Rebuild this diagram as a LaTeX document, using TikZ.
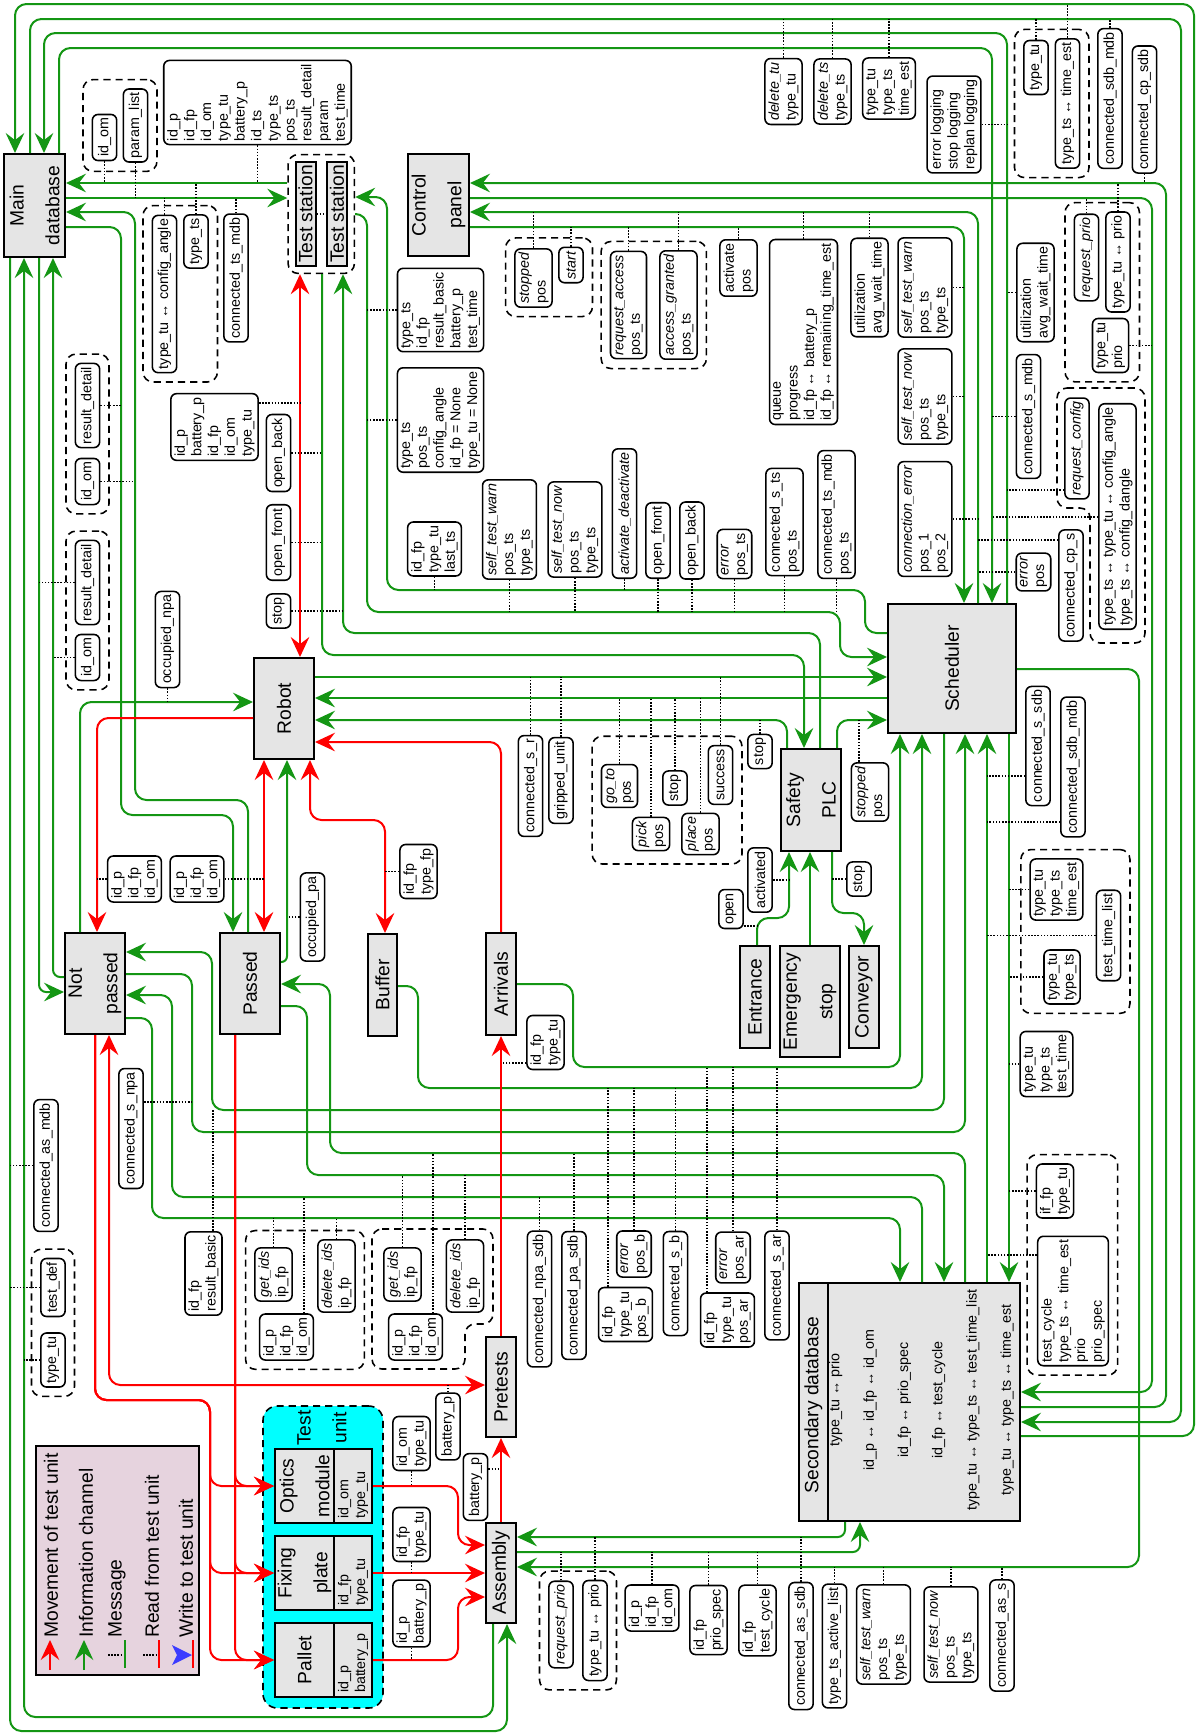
\documentclass[tikz,border=0pt]{standalone}
\usepackage{fontspec}
\setmainfont{Liberation Sans}
\usetikzlibrary{arrows.meta,fit}
\definecolor{chgreen}{RGB}{20,150,20}
\definecolor{mvred}{RGB}{255,0,0}
\definecolor{unitgray}{RGB}{229,229,229}
\definecolor{legendpink}{RGB}{230,211,222}
\definecolor{wrblue}{RGB}{60,60,255}
\definecolor{tucyan}{RGB}{0,255,255}

\begin{document}
\catcode`\_=12
\begin{tikzpicture}[
    x=0.7pt, y=-0.7pt,
    >={Stealth[length=14pt,width=13pt,inset=5pt]},
    unitbox/.style={rectangle, draw, line width=1.4pt, fill=unitgray, rotate=90, align=center, inner sep=0pt, font=\fontsize{13.5}{25}\selectfont},
    idbox/.style={unitbox, align=left, text width=46pt, minimum width=51.8pt, minimum height=26.6pt, font=\fontsize{10}{11.7}\selectfont},
    msgbox/.style={rectangle, draw, line width=1.1pt, rounded corners=4pt, fill=white, rotate=90, align=left, inner sep=2.5pt, minimum height=17pt, font=\fontsize{10}{11.7}\selectfont},
    grp/.style={draw, line width=1.1pt, dash pattern=on 5pt off 3.5pt, rounded corners=7pt, inner sep=6pt},
    legtext/.style={rotate=90, anchor=west, inner sep=0pt, font=\fontsize{13.5}{16}\selectfont},
    infoline/.style={draw=chgreen, line width=1.4pt, rounded corners=8pt},
    moveline/.style={draw=mvred, line width=1.4pt, rounded corners=8pt},
    msglink/.style={line width=1.1pt, dash pattern=on 1.1pt off 1.1pt}
]
\useasboundingbox (0,0) rectangle (1197,1735);

% Units
\node[unitbox, minimum width=72.1pt, minimum height=42.7pt] (mdb) at (34.5,205.5) {Main\\database};
\node[unitbox, minimum width=72.8pt, minimum height=14pt] (ts1) at (305.5,214) {Test station};
\node[unitbox, minimum width=72.8pt, minimum height=14pt] (ts2) at (337,214) {Test station};
\node[grp, inner sep=4.5pt, fit=(ts1)(ts2)] (tsg) {};
\node[unitbox, minimum width=71.4pt, minimum height=42.7pt] (cp) at (438.5,205) {Control\\panel};
\node[unitbox, minimum width=70.7pt, minimum height=42pt] (robot) at (284,708.5) {Robot};
\node[unitbox, minimum width=90.3pt, minimum height=89.6pt] (sched) at (952,668.5) {Scheduler};
\node[unitbox, minimum width=71.4pt, minimum height=42pt] (plc) at (811,800) {Safety\\PLC};
\node[unitbox, minimum width=70.7pt, minimum height=42pt] (notpassed) at (95,983.5) {Not\\passed};
\node[unitbox, minimum width=70.7pt, minimum height=42pt] (passed) at (250,983.5) {Passed};
\node[unitbox, minimum width=71.4pt, minimum height=20.3pt] (buffer) at (382.5,985) {Buffer};
\node[unitbox, minimum width=71.4pt, minimum height=21pt] (arrivals) at (501,984) {Arrivals};
\node[unitbox, minimum width=71.4pt, minimum height=21pt] (entrance) at (755,997) {Entrance};
\node[unitbox, minimum width=77.7pt, minimum height=42pt] (estop) at (810,1001.5) {Emergency\\stop};
\node[unitbox, minimum width=71.4pt, minimum height=21pt] (conveyor) at (864,997) {Conveyor};
\node[unitbox, minimum width=70pt, minimum height=21pt] (pretests) at (501,1387) {Pretests};
\node[unitbox, minimum width=70pt, minimum height=21pt] (assembly) at (501,1573) {Assembly};

% Secondary database
\node[rectangle, draw, line width=1.4pt, fill=unitgray, minimum width=154.7pt, minimum height=166.6pt, inner sep=0pt] (sdb) at (909.5,1402) {};
\draw[line width=1.4pt] (sdb.north -| 828,0) -- (sdb.south -| 828,0);
\node[rotate=90, inner sep=0pt, font=\fontsize{13.5}{25}\selectfont] (sdbtitle) at (813.5,1405) {Secondary database};
\node[rotate=90, align=center, inner sep=0pt, font=\fontsize{10}{24}\selectfont] (sdbmaps) at (921.5,1400) {type_tu ↔ prio\\id_p ↔ id_fp ↔ id_om\\id_fp ↔ prio_spec\\id_fp ↔ test_cycle\\type_tu ↔ type_ts ↔ test_time_list\\type_tu ↔ type_ts ↔ time_est};

% Test unit
\node[rectangle, draw, line width=1.1pt, dash pattern=on 5pt off 3.5pt, rounded corners=10pt, fill=tucyan, minimum width=84pt, minimum height=211.4pt] (tug) at (323,1557) {};
\node[rotate=90, align=center, inner sep=0pt, font=\fontsize{13.5}{25}\selectfont] (tutitle) at (322,1428) {Test\\unit};
\node[unitbox, minimum width=51.8pt, minimum height=41.3pt] (optics) at (304.5,1486) {Optics\\module};
\node[idbox] (opticsid) at (353,1486) {id_om\\type_tu};
\node[unitbox, minimum width=51.8pt, minimum height=41.3pt] (fixing) at (304.5,1573) {Fixing\\plate};
\node[idbox] (fixingid) at (353,1573) {id_fp\\type_tu};
\node[unitbox, minimum width=51.8pt, minimum height=41.3pt] (pallet) at (304.5,1660) {Pallet};
\node[idbox] (palletid) at (353,1660) {id_p\\battery_p};

% Legend
\node[rectangle, draw, line width=1.4pt, fill=legendpink, minimum width=114.1pt, minimum height=160.3pt] (legend) at (117.5,1560.5) {};
\node[legtext] (lgmove) at (51,1638) {Movement of test unit};
\node[legtext] (lginfo) at (86,1638) {Information channel};
\node[legtext] (lgmsg) at (117,1638) {Message};
\node[legtext] (lgread) at (152,1638) {Read from test unit};
\node[legtext] (lgwrite) at (186,1638) {Write to test unit};
\draw[moveline,->] (lgmove.west) ++(-1,32) -- ++(0,-30);
\draw[infoline,->] (lginfo.west) ++(-2,32) -- ++(0,-30);
\draw[msglink] (lgmsg.west) ++(-9,17) -- ++(15,0);
\draw[infoline] (lgmsg.west) ++(8,2) -- ++(0,28);
\draw[msglink] (lgread.west) ++(-9,17) -- ++(14,0);
\draw[moveline] (lgread.west) ++(7,2) -- ++(0,28);
\fill[wrblue] (lgwrite.west) ++(6,17) -- ++(-20,-10) -- ++(5,10) -- ++(-5,10) -- cycle;
\draw[moveline] (lgwrite.west) ++(7,2) -- ++(0,28);

% Messages near the test station
\node[msgbox] (omA) at (104.5,137.5) {id_om};
\node[msgbox] (paramlist) at (135.5,125.5) {param_list};
\node[grp, fit=(omA)(paramlist)] (gparam) {};
\node[msgbox] (tsrec) at (257.5,102.5) {id_p\\id_fp\\id_om\\type_tu\\battery_p\\id_ts\\type_ts\\pos_ts\\result_detail\\param\\test_time};
\node[msgbox] (tsangle) at (164.5,294) {type_tu ↔ config_angle};
\node[msgbox] (tstype) at (196,241.5) {type_ts};
\node[grp, fit=(tsangle)(tstype)] (gangle) {};
\node[msgbox] (tsmdb) at (236,278) {connected_ts_mdb};
\node[msgbox] (resA) at (87.5,405.5) {result_detail};
\node[msgbox] (omB) at (87.5,481.5) {id_om};
\node[grp, fit=(resA)(omB)] (gresA) {};
\node[msgbox] (resB) at (87.5,582.5) {result_detail};
\node[msgbox] (omC) at (87.5,657.5) {id_om};
\node[grp, fit=(resB)(omC)] (gresB) {};
\node[msgbox] (occnpa) at (167.5,639.5) {occupied_npa};
\node[msgbox] (robrec) at (214.5,427) {id_p\\battery_p\\id_fp\\id_om\\type_tu};
\node[msgbox] (openbackA) at (278.5,453) {open_back};
\node[msgbox] (openfrontA) at (278.5,542.5) {open_front};
\node[msgbox] (stopA) at (278.5,611) {stop};
\node[msgbox] (tsbasic) at (440.5,310) {type_ts\\id_fp\\result_basic\\battery_p\\test_time};
\node[msgbox] (tsconf) at (440.5,420) {type_ts\\pos_ts\\config_angle\\id_fp = None\\type_tu = None};

% Messages near the control panel
\node[msgbox] (stoppedA) at (533.5,278) {\textit{stopped}\\pos};
\node[msgbox] (start) at (571,265) {\textit{start}};
\node[grp, fit=(stoppedA)(start)] (gstart) {};
\node[msgbox] (reqacc) at (628.5,305) {\textit{request_access}\\pos_ts};
\node[msgbox] (accgr) at (678.5,305) {\textit{access_granted}\\pos_ts};
\node[grp, fit=(reqacc)(accgr)] (gaccess) {};
\node[msgbox] (activate) at (738.5,268) {activate\\pos};
\node[msgbox] (queue) at (803.5,332) {queue\\progress\\id_fp ↔ battery_p\\id_fp ↔ remaining_time_est};
\node[msgbox] (utilA) at (869.5,287.5) {utilization\\avg_wait_time};
\node[msgbox] (warnA) at (925,287.5) {\textit{self_test_warn}\\pos_ts\\type_ts};
\node[msgbox] (nowA) at (925,396.5) {\textit{self_test_now}\\pos_ts\\type_ts};

% Messages at the top right
\node[msgbox] (deltu) at (783.5,91.5) {\textit{delete_tu}\\type_tu};
\node[msgbox] (delts) at (832.5,91.5) {\textit{delete_ts}\\type_ts};
\node[msgbox] (estA) at (889,88.5) {type_tu\\type_ts\\time_est};
\node[msgbox] (logging) at (954,124.5) {error logging\\stop logging\\replan logging};
\node[msgbox] (tutypeA) at (1036,67.5) {type_tu};
\node[msgbox] (tsest) at (1067.5,103.5) {type_ts ↔ time_est};
\node[grp, fit=(tutypeA)(tsest)] (gest) {};
\node[msgbox] (sdbmdbA) at (1110,98.5) {connected_sdb_mdb};
\node[msgbox] (cpsdb) at (1144.5,109.5) {connected_cp_sdb};
\node[msgbox] (reqprioA) at (1086.5,257.5) {\textit{request_prio}};
\node[msgbox] (tuprioA) at (1118,262) {type_tu ↔ prio};
\node[msgbox] (tuprio) at (1110.5,345.5) {type_tu\\prio};
\node[grp, fit=(reqprioA)(tuprioA)(tuprio)] (gprioA) {};
\node[msgbox] (utilB) at (1035.5,292.5) {utilization\\avg_wait_time};
\node[msgbox] (smdb) at (1028.5,416.5) {connected_s_mdb};
\node[msgbox] (reqconf) at (1077,448.5) {\textit{request_config}};
\node[msgbox] (confmap) at (1117.5,516.5) {type_ts ↔ type_tu ↔ config_angle\\type_ts ↔ config_dangle};
\draw[grp] (1057,388) -- (1145,388) -- (1145,643) -- (1090,643) -- (1090,508) -- (1057,508) -- cycle;
\node[msgbox] (cps) at (1071,585.5) {connected_cp_s};
\node[msgbox] (errA) at (1033.5,572) {\textit{error}\\pos};
\node[msgbox] (connerr) at (925,519) {\textit{connection_error}\\pos_1\\pos_2};
\node[msgbox] (tsmdbpos) at (836.5,514.5) {connected_ts_mdb\\pos_ts};
\node[msgbox] (sts) at (784.5,522) {connected_s_ts\\pos_ts};

% Messages between robot and scheduler
\node[msgbox] (lastts) at (434.5,549) {id_fp\\type_tu\\last_ts};
\node[msgbox] (warnB) at (509.5,529.5) {\textit{self_test_warn}\\pos_ts\\type_ts};
\node[msgbox] (nowB) at (575,529.5) {\textit{self_test_now}\\pos_ts\\type_ts};
\node[msgbox] (actdeact) at (624.5,513.5) {\textit{activate_deactivate}};
\node[msgbox] (openfrontB) at (658,540.5) {open_front};
\node[msgbox] (openbackB) at (692,540.5) {open_back};
\node[msgbox] (errB) at (734.5,554) {\textit{error}\\pos_ts};
\node[msgbox] (sr) at (530.5,786) {connected_s_r};
\node[msgbox] (gripped) at (561,780.5) {gripped_unit};
\node[msgbox] (goto) at (619.5,786) {\textit{go_to}\\pos};
\node[msgbox] (stopB) at (675,788) {stop};
\node[msgbox] (success) at (720.5,775) {success};
\node[msgbox] (pick) at (651,834) {\textit{pick}\\pos};
\node[msgbox] (place) at (700.5,834) {\textit{place}\\pos};
\node[grp, fit=(goto)(stopB)(success)(pick)(place)] (grobot) {};
\node[msgbox] (stopC) at (760,751.5) {stop};
\node[msgbox] (activated) at (760,880) {activated};
\node[msgbox] (open) at (731,909) {open};
\node[msgbox] (stoppedB) at (870,792) {\textit{stopped}\\pos};
\node[msgbox] (stopD) at (859,879) {stop};

% Messages right of the scheduler
\node[msgbox] (ssdb) at (1038,746) {connected_s_sdb};
\node[msgbox] (sdbmdbB) at (1073,767) {connected_sdb_mdb};
\node[msgbox] (estB) at (1056.5,889.5) {type_tu\\type_ts\\time_est};
\node[msgbox] (ttlist) at (1108.5,935.5) {test_time_list};
\node[msgbox] (tutsA) at (1062,977) {type_tu\\type_ts};
\node[grp, fit=(estB)(ttlist)(tutsA)] (gttl) {};
\node[msgbox] (testtime) at (1046.5,1064) {type_tu\\type_ts\\test_time};
\node[msgbox] (iffp) at (1055,1191) {if_fp\\type_tu};
\node[msgbox] (cyclebox) at (1073,1301) {test_cycle\\type_ts ↔ time_est\\prio\\prio_spec};
\node[grp, fit=(iffp)(cyclebox)] (gcycle) {};

% Messages in the lower half
\node[msgbox] (ompA) at (134.5,879) {id_p\\id_fp\\id_om};
\node[msgbox] (ompB) at (197,879) {id_p\\id_fp\\id_om};
\node[msgbox] (occpa) at (312.5,917) {occupied_pa};
\node[msgbox] (typefp) at (418.5,871.5) {id_fp\\type_fp};
\node[msgbox] (fptuA) at (545.5,1042.5) {id_fp\\type_tu};
\node[msgbox] (snpa) at (131,1128.5) {connected_s_npa};
\node[msgbox] (asmdb) at (46,1165.5) {connected_as_mdb};
\node[msgbox] (testdef) at (53,1287.5) {test_def};
\node[msgbox] (tutypeB) at (53,1360) {type_tu};
\node[grp, fit=(testdef)(tutypeB)] (gdef) {};
\node[msgbox] (resbasic) at (203.5,1273.5) {id_fp\\result_basic};
\node[msgbox] (getA) at (273.5,1274.5) {\textit{get_ids}\\ip_fp};
\node[msgbox] (delA) at (336.5,1276) {\textit{delete_ids}\\ip_fp};
\node[msgbox] (ompC) at (286.5,1337) {id_p\\id_fp\\id_om};
\node[grp, fit=(getA)(delA)(ompC)] (gidsA) {};
\node[msgbox] (getB) at (402.5,1274.5) {\textit{get_ids}\\ip_fp};
\node[msgbox] (delB) at (465,1276) {\textit{delete_ids}\\ip_fp};
\node[msgbox] (ompD) at (415.5,1337) {id_p\\id_fp\\id_om};
\draw[grp] (372,1229) -- (493,1229) -- (493,1324) -- (465,1324) -- (465,1369) -- (372,1369) -- cycle;
\node[msgbox] (npasdb) at (539.5,1299) {connected_npa_sdb};
\node[msgbox] (pasdb) at (574,1295.5) {connected_pa_sdb};
\node[msgbox] (errC) at (634,1254) {\textit{error}\\pos_b};
\node[msgbox] (posb) at (625.5,1314.5) {id_fp\\type_tu\\pos_b};
\node[msgbox] (sb) at (675.5,1283.5) {connected_s_b};
\node[msgbox] (errD) at (733,1257.5) {\textit{error}\\pos_ar};
\node[msgbox] (posar) at (727.5,1320) {id_fp\\type_tu\\pos_ar};
\node[msgbox] (sar) at (777,1285.5) {connected_s_ar};
\node[msgbox] (omtu) at (411.5,1443.5) {id_om\\type_tu};
\node[msgbox] (fptuB) at (411.5,1534.5) {id_fp\\type_tu};
\node[msgbox] (pbat) at (411.5,1613.5) {id_p\\battery_p};
\node[msgbox] (batA) at (448,1426.5) {battery_p};
\node[msgbox] (batB) at (475.5,1487) {battery_p};
\node[msgbox] (reqprioB) at (561,1624.5) {\textit{request_prio}};
\node[msgbox] (tuprioB) at (595,1630.5) {type_tu ↔ prio};
\node[grp, fit=(reqprioB)(tuprioB)] (gprioB) {};
\node[msgbox] (ompE) at (652,1608) {id_p\\id_fp\\id_om};
\node[msgbox] (priospec) at (708.5,1620) {id_fp\\prio_spec};
\node[msgbox] (tcycle) at (757.5,1620.5) {id_fp\\test_cycle};
\node[msgbox] (assdb) at (801,1646) {connected_as_sdb};
\node[msgbox] (activelist) at (834.5,1646) {type_ts_active_list};
\node[msgbox] (warnC) at (883.5,1634.5) {\textit{self_test_warn}\\pos_ts\\type_ts};
\node[msgbox] (nowC) at (951,1634.5) {\textit{self_test_now}\\pos_ts\\type_ts};
\node[msgbox] (assconn) at (1002,1635.5) {connected_as_s};

% Information channels
\draw[infoline,->] (sdb.east |- 0,1436) -| (1194,4) -| (mdb.east -| 15,0);
\draw[infoline,->] (mdb.east -| 30,0) |- (1181,19) |- (sdb.east |- 0,1422);
\draw[infoline,->] (sched.east -| 1007,0) |- (44,33) -- (mdb.east -| 44,0);
\draw[infoline,->] (mdb.east -| 59,0) |- (992,48) -- (sched.east -| 992,0);
\draw[infoline,->] (sdb.east |- 0,1407) -| (1166,183) -- (cp.south |- 0,183);
\draw[infoline,->] (cp.south |- 0,198) -| (1152,1392) -- (sdb.east |- 0,1392);
\draw[infoline,->] (sched.east -| 978,0) |- (cp.south |- 0,212);
\draw[infoline,->] (cp.south |- 0,227) -| (sched.east -| 964,0);
\draw[infoline,->] (tsg.west |- 0,183) -- (mdb.south |- 0,183);
\draw[infoline,->] (mdb.south |- 0,198) -- (tsg.west |- 0,198);
\draw[infoline,->] (passed.east -| 248,0) |- (135,800) |- (mdb.south |- 0,212);
\draw[infoline,->] (mdb.south |- 0,227) -| (121,815) -| (passed.east -| 233,0);
\draw[infoline,->,rounded corners=5pt] (mdb.west -| 39,0) |- (notpassed.north |- 0,992);
\draw[infoline,->,rounded corners=5pt] (notpassed.north |- 0,977) -| (mdb.west -| 53,0);
\draw[infoline,->] (notpassed.east -| 80,0) |- (robot.north |- 0,702);
\draw[infoline,->] (mdb.west -| 10,0) |- (507,1731) -- (assembly.west -| 507,0);
\draw[infoline,->] (assembly.west -| 493,0) |- (24,1717) -- (mdb.west -| 24,0);
\draw[infoline,->,rounded corners=4pt] (passed.south |- 0,962) -| (robot.west -| 287,0);
\draw[infoline,->] (sched.north |- 0,633) -| (865,590) -| (387,197) -- (tsg.east |- 0,197);
\draw[infoline,->] (tsg.east |- 0,214) -| (367,612) -| (840,657) -- (sched.north |- 0,657);
\draw[infoline,->] (plc.east -| 820,0) |- (343,633) -- (tsg.south -| 343,0);
\draw[infoline,->] (tsg.south -| 322,0) |- (804,655) -- (plc.east -| 804,0);
\draw[infoline,->] (robot.south |- 0,677) -- (sched.north |- 0,677);
\draw[infoline,->] (sched.north |- 0,698) -- (robot.south |- 0,698);
\draw[infoline,->] (plc.east -| 787,0) |- (robot.south |- 0,720);
\draw[infoline,->] (plc.east -| 837,0) |- (sched.north |- 0,720);
\draw[infoline,->] (entrance.east -| 757,0) |- (789,918) -- (plc.west -| 789,0);
\draw[infoline,->] (estop.east -| 810,0) -- (plc.west -| 810,0);
\draw[infoline,->] (plc.west -| 832,0) |- (864,913) -- (conveyor.east -| 864,0);
\draw[infoline,->] (arrivals.south |- 0,984) -| (573,1067) -| (sched.west -| 900,0);
\draw[infoline,->] (buffer.south |- 0,986) -| (418,1088) -| (sched.west -| 922,0);
\draw[infoline,->] (sched.west -| 944,0) |- (212,1110) |- (notpassed.south |- 0,952);
\draw[infoline,->] (notpassed.south |- 0,974) -| (192,1132) -| (sched.west -| 965,0);
\draw[infoline,->] (sdb.north -| 965,0) |- (330,1153) |- (passed.south |- 0,984);
\draw[infoline,->] (passed.south |- 0,1006) -| (307,1175) -| (sdb.north -| 944,0);
\draw[infoline,->] (sdb.north -| 922,0) |- (172,1197) |- (notpassed.south |- 0,995);
\draw[infoline,->] (notpassed.south |- 0,1018) -| (152,1218) -| (sdb.north -| 900,0);
\draw[infoline,->] (sdb.north -| 987,0) -- (sched.west -| 987,0);
\draw[infoline,->] (sched.west -| 1009,0) -- (sdb.north -| 1009,0);
\draw[infoline,->] (sched.south |- 0,669) -| (1139,1567) -- (assembly.south |- 0,1567);
\draw[infoline,->,rounded corners=5pt] (sdb.south -| 845,0) |- (assembly.south |- 0,1537);
\draw[infoline,->,rounded corners=5pt] (assembly.south |- 0,1552) -| (sdb.south -| 860,0);

% Movement of test units
\draw[moveline,<->] (robot.east -| 300,0) -- (tsg.south -| 300,0);
\draw[moveline,->] (robot.north |- 0,718) -| (notpassed.east -| 97,0);
\draw[moveline,<->] (robot.west -| 264,0) -- (passed.east -| 264,0);
\draw[moveline,<->] (robot.west -| 310,0) |- (385,820) -- (buffer.east -| 385,0);
\draw[moveline,->] (arrivals.east -| 501,0) |- (robot.south |- 0,742);
\draw[moveline,->] (pretests.east -| 501,0) -- (arrivals.west -| 501,0);
\draw[moveline,->] (assembly.east -| 501,0) -- (pretests.west -| 501,0);
\draw[moveline,<->] (notpassed.west -| 109,0) |- (pretests.north |- 0,1385);
\foreach \piece/\py in {optics/1486, fixing/1573, pallet/1660} {
  \draw[moveline,->] (notpassed.west -| 95,0) |- (210,1400) |- (\piece.north |- 0,\py);
  \draw[moveline,->] (passed.west -| 235,0) |- (\piece.north |- 0,\py);
}
\draw[moveline,->] (opticsid.south |- 0,1486) -| (458,1545) -- (assembly.north |- 0,1545);
\draw[moveline,->] (fixingid.south |- 0,1573) -- (assembly.north |- 0,1573);
\draw[moveline,->] (palletid.south |- 0,1660) -| (458,1597) -- (assembly.north |- 0,1597);

% Messages on the channels
\draw[msglink] (ts1) -- (ts2);
\draw[msglink] (omA) -- (omA |- 0,183);
\draw[msglink] (paramlist) -- (paramlist |- 0,198);
\draw[msglink] (tsrec) -- (tsrec |- 0,183);
\draw[msglink] (tsangle) -- (tsangle |- 0,198);
\draw[msglink] (tstype) -- (tstype |- 0,183);
\draw[msglink] (tsmdb) -- (tsmdb |- 0,198);
\draw[msglink] (resA) -- (resA -| 121,0);
\draw[msglink] (omB) -- (omB -| 135,0);
\draw[msglink] (resB) -- (resB -| 39,0);
\draw[msglink] (omC) -- (omC -| 53,0);
\draw[msglink] (occnpa) -- (occnpa |- 0,702);
\draw[msglink] (robrec.south |- 0,403) -- (300,403);
\draw[msglink] (openbackA) -- (openbackA -| 322,0);
\draw[msglink] (openfrontA) -- (openfrontA -| 322,0);
\draw[msglink] (stopA) -- (stopA -| 343,0);
\draw[msglink] (tsbasic) -- (tsbasic -| 367,0);
\draw[msglink] (tsconf) -- (tsconf -| 367,0);
\draw[msglink] (stoppedA) -- (stoppedA |- 0,212);
\draw[msglink] (start) -- (start |- 0,227);
\draw[msglink] (reqacc) -- (reqacc |- 0,227);
\draw[msglink] (accgr) -- (accgr |- 0,212);
\draw[msglink] (activate) -- (activate |- 0,227);
\draw[msglink] (queue) -- (queue |- 0,212);
\draw[msglink] (utilA) -- (utilA |- 0,212);
\draw[msglink] (warnA) -- (warnA -| 964,0);
\draw[msglink] (nowA) -- (nowA -| 964,0);
\draw[msglink] (deltu) -- (deltu |- 0,19);
\draw[msglink] (delts) -- (delts |- 0,19);
\draw[msglink] (estA) -- (estA |- 0,19);
\draw[msglink] (logging) -- (logging -| 1007,0);
\draw[msglink] (tutypeA) -- (tutypeA |- 0,19);
\draw[msglink] (tsest) -- (tsest |- 0,4);
\draw[msglink] (sdbmdbA) -- (sdbmdbA |- 0,19);
\draw[msglink] (cpsdb) -- (cpsdb |- 0,183);
\draw[msglink] (reqprioA) -- (reqprioA |- 0,198);
\draw[msglink] (tuprioA) -- (tuprioA |- 0,183);
\draw[msglink] (tuprio) -- (tuprio -| 1152,0);
\draw[msglink] (utilB) -- (utilB -| 1007,0);
\draw[msglink] (smdb) -- (smdb -| 992,0);
\draw[msglink] (reqconf.north |- 0,490) -- (1007,490);
\draw[msglink] (confmap.north |- 0,517) -- (992,517);
\draw[msglink] (cps.north |- 0,540) -- (978,540);
\draw[msglink] (errA) -- (errA -| 978,0);
\draw[msglink] (connerr) -- (connerr -| 978,0);
\draw[msglink] (tsmdbpos) -- (tsmdbpos |- 0,612);
\draw[msglink] (sts) -- (sts |- 0,612);
\draw[msglink] (lastts) -- (lastts |- 0,590);
\draw[msglink] (warnB) -- (warnB |- 0,612);
\draw[msglink] (nowB) -- (nowB |- 0,612);
\draw[msglink] (actdeact) -- (actdeact |- 0,590);
\draw[msglink] (openfrontB) -- (openfrontB |- 0,612);
\draw[msglink] (openbackB) -- (openbackB |- 0,612);
\draw[msglink] (errB) -- (errB |- 0,612);
\draw[msglink] (sr) -- (sr |- 0,677);
\draw[msglink] (gripped) -- (gripped |- 0,677);
\draw[msglink] (goto) -- (goto |- 0,698);
\draw[msglink] (pick) -- (pick |- 0,698);
\draw[msglink] (stopB) -- (stopB |- 0,698);
\draw[msglink] (place) -- (place |- 0,698);
\draw[msglink] (success) -- (success |- 0,677);
\draw[msglink] (stopC) -- (stopC |- 0,720);
\draw[msglink] (activated) -- (activated -| 789,0);
\draw[msglink] (open.south |- 0,926) -- (757,926);
\draw[msglink] (stoppedB.east -| 859,0) -- (859,720);
\draw[msglink] (stopD) -- (stopD -| 832,0);
\draw[msglink] (ssdb.north |- 0,776) -- (987,776);
\draw[msglink] (sdbmdbB.north |- 0,822) -- (987,822);
\draw[msglink] (estB) -- (estB -| 1009,0);
\draw[msglink] (ttlist) -- (ttlist -| 987,0);
\draw[msglink] (tutsA) -- (tutsA -| 1009,0);
\draw[msglink] (testtime) -- (testtime -| 1009,0);
\draw[msglink] (iffp) -- (iffp -| 1009,0);
\draw[msglink] (cyclebox.north |- 0,1255) -- (987,1255);
\draw[msglink] (ompA) -- (ompA -| 97,0);
\draw[msglink] (ompB) -- (ompB -| 264,0);
\draw[msglink] (occpa) -- (occpa -| 287,0);
\draw[msglink] (typefp) -- (typefp -| 385,0);
\draw[msglink] (fptuA.north |- 0,1063) -- (501,1063);
\draw[msglink] (snpa.south |- 0,1102) -- (192,1102);
\draw[msglink] (asmdb) -- (asmdb -| 10,0);
\draw[msglink] (testdef) -- (testdef -| 10,0);
\draw[msglink] (tutypeB) -- (tutypeB -| 24,0);
\draw[msglink] (resbasic.east -| 213,0) -- (213,1110);
\draw[msglink] (getA) -- (getA |- 0,1218);
\draw[msglink] (delA) -- (delA |- 0,1218);
\draw[msglink] (ompC.east -| 304,0) -- (304,1197);
\draw[msglink] (getB) -- (getB |- 0,1175);
\draw[msglink] (delB) -- (delB |- 0,1175);
\draw[msglink] (ompD.east -| 433,0) -- (433,1153);
\draw[msglink] (npasdb) -- (npasdb |- 0,1197);
\draw[msglink] (pasdb) -- (pasdb |- 0,1153);
\draw[msglink] (errC) -- (errC |- 0,1088);
\draw[msglink] (posb.east -| 608,0) -- (608,1088);
\draw[msglink] (sb) -- (sb |- 0,1088);
\draw[msglink] (errD) -- (errD |- 0,1067);
\draw[msglink] (posar.east -| 707,0) -- (707,1067);
\draw[msglink] (sar) -- (sar |- 0,1067);
\draw[msglink] (omtu) -- (omtu |- 0,1486);
\draw[msglink] (fptuB) -- (fptuB |- 0,1573);
\draw[msglink] (pbat) -- (pbat |- 0,1660);
\draw[msglink] (batA) -- (batA |- 0,1385);
\draw[msglink] (batB.south |- 0,1469) -- (501,1469);
\draw[msglink] (reqprioB) -- (reqprioB |- 0,1552);
\draw[msglink] (tuprioB) -- (tuprioB |- 0,1537);
\draw[msglink] (ompE) -- (ompE |- 0,1552);
\draw[msglink] (priospec) -- (priospec |- 0,1552);
\draw[msglink] (tcycle) -- (tcycle |- 0,1552);
\draw[msglink] (assdb) -- (assdb |- 0,1537);
\draw[msglink] (activelist) -- (activelist |- 0,1567);
\draw[msglink] (warnC) -- (warnC |- 0,1567);
\draw[msglink] (nowC) -- (nowC |- 0,1567);
\draw[msglink] (assconn) -- (assconn |- 0,1567);
\end{tikzpicture}
\end{document}
